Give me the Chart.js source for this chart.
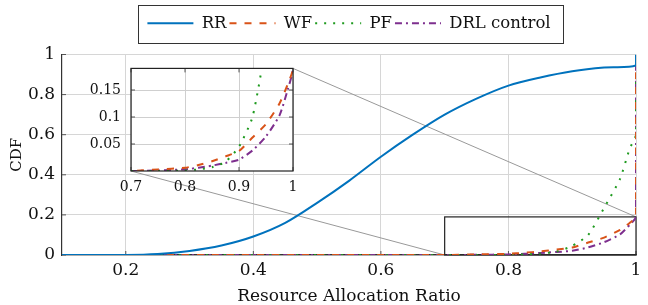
<!DOCTYPE html>
<html>
<head>
<meta charset="utf-8">
<script src="https://cdn.jsdelivr.net/npm/chart.js@4/dist/chart.umd.min.js"></script>
<style>
  body { margin: 0; background: #fff; }
  #wrap { position: relative; width: 648px; height: 305px; }
  #mainChart { position: absolute; left: 0; top: 0; }
  #insetChart { position: absolute; left: 40px; top: 50px; pointer-events: none; }
</style>
</head>
<body>
<div id="wrap">
  <canvas id="mainChart" width="648" height="305"></canvas>
  <canvas id="insetChart" width="270" height="150"></canvas>
</div>
<script>
// series data
var seriesNames = ["RR", "WF", "PF", "DRL control"];
var rrX = [0.1, 0.2, 0.25, 0.3, 0.35, 0.4, 0.45, 0.5, 0.55, 0.6, 0.65, 0.7, 0.75, 0.8, 0.85, 0.9, 0.95, 1.0, 1.0];
var rrY = [0, 0, 0.005, 0.02, 0.047, 0.092, 0.16, 0.26, 0.37, 0.49, 0.6, 0.7, 0.78, 0.845, 0.885, 0.916, 0.935, 0.945, 1.0];
var tailX = [0.1, 0.7, 0.75, 0.8, 0.825, 0.85, 0.875, 0.9, 0.925, 0.95, 0.975, 0.99, 1.0, 1.0];
var wfY  = [0, 0, 0.003, 0.006, 0.011, 0.018, 0.027, 0.037, 0.062, 0.087, 0.125, 0.16, 0.19, 1.0];
var pfY  = [0, 0, 0, 0.001, 0.003, 0.007, 0.017, 0.045, 0.1, 0.235, 0.38, 0.53, 0.6, 1.0];
var drlY = [0, 0, 0.001, 0.003, 0.006, 0.01, 0.015, 0.021, 0.038, 0.064, 0.103, 0.15, 0.19, 1.0];

// axes
var mainXTicks = [0.2, 0.4, 0.6, 0.8, 1];
var mainYTicks = [0, 0.2, 0.4, 0.6, 0.8, 1];
var insetXTicks = [0.7, 0.8, 0.9, 1];
var insetYTicks = [0.05, 0.1, 0.15];
var zoomX = [0.7, 1];
var zoomY = [0, 0.19];

var serif = "'DejaVu Serif', 'Liberation Serif', serif";
var colors = ["#0072BD", "#D95319", "#1E9A1E", "#7E2F8E"];
var dashes = [[], [7, 8], [2, 7], [7, 4, 2, 4]];

function pts(xs, ys) {
  return xs.map(function (x, i) { return { x: x, y: ys[i] }; });
}

function makeDatasets(width) {
  var ys = [null, wfY, pfY, drlY];
  var list = [{
    label: seriesNames[0], data: pts(rrX, rrY),
    borderColor: colors[0], backgroundColor: colors[0],
    borderWidth: width, borderDash: dashes[0], pointRadius: 0, tension: 0.3
  }];
  [1, 2, 3].forEach(function (k) {
    list.push({
      label: seriesNames[k], data: pts(tailX, ys[k]),
      borderColor: colors[k], backgroundColor: colors[k],
      borderWidth: width, borderDash: dashes[k], pointRadius: 0, tension: 0.2
    });
  });
  return list;
}

function fixedTicks(list) {
  return function (scale) {
    scale.ticks = list.map(function (v) { return { value: v }; });
  };
}
function plainLabel(v) { return String(v); }

// small inward tick marks like the original plot
function innerTicks(chart, sides) {
  var a = chart.chartArea, c = chart.ctx, xs = chart.scales.x, ys = chart.scales.y;
  c.save();
  c.strokeStyle = "#555";
  c.lineWidth = 1;
  c.beginPath();
  xs.ticks.forEach(function (t) {
    var px = xs.getPixelForValue(t.value);
    if (sides.bottom) { c.moveTo(px, a.bottom); c.lineTo(px, a.bottom - 4); }
    if (sides.top) { c.moveTo(px, a.top); c.lineTo(px, a.top + 4); }
  });
  ys.ticks.forEach(function (t) {
    var py = ys.getPixelForValue(t.value);
    if (sides.left) { c.moveTo(a.left, py); c.lineTo(a.left + 4, py); }
    if (sides.right) { c.moveTo(a.right, py); c.lineTo(a.right - 4, py); }
  });
  c.stroke();
  c.restore();
}

Chart.defaults.font.family = serif;
Chart.defaults.color = "#111";

// inset (zoomed view)
var insetFrame = {
  id: "insetFrame",
  beforeDraw: function (chart) {
    var a = chart.chartArea, c = chart.ctx;
    c.save();
    c.fillStyle = "#fff";
    c.fillRect(a.left, a.top, a.right - a.left, a.bottom - a.top);
    c.restore();
  },
  beforeDatasetsDraw: function (chart) {
    innerTicks(chart, { left: true, right: true, top: true, bottom: true });
  },
  afterDraw: function (chart) {
    var a = chart.chartArea, c = chart.ctx;
    c.save();
    c.strokeStyle = "#222";
    c.lineWidth = 1.2;
    c.strokeRect(a.left, a.top, a.right - a.left, a.bottom - a.top);
    c.restore();
  }
};

var insetChart = new Chart("insetChart", {
  type: "line",
  data: { datasets: makeDatasets(2) },
  options: {
    responsive: false, animation: false, devicePixelRatio: 1,
    layout: { padding: { top: 10, right: 17, left: 0, bottom: 0 } },
    plugins: { legend: { display: false }, tooltip: { enabled: false } },
    scales: {
      x: {
        type: "linear", min: zoomX[0], max: zoomX[1],
        afterBuildTicks: fixedTicks(insetXTicks),
        afterFit: function (s) { s.height = 29; },
        grid: { color: "#cfcfcf", drawTicks: false },
        border: { display: false },
        ticks: { font: { size: 14 }, padding: 8, maxRotation: 0, callback: plainLabel }
      },
      y: {
        type: "linear", min: zoomY[0], max: zoomY[1],
        afterBuildTicks: fixedTicks(insetYTicks),
        afterFit: function (s) { s.width = 91; },
        grid: { color: "#cfcfcf", drawTicks: false },
        border: { display: false },
        ticks: { font: { size: 14 }, padding: 10, callback: plainLabel }
      }
    }
  },
  plugins: [insetFrame]
});

// legend is centred over the plot area, not the whole canvas
function legendShift(chart) {
  var lg = chart.legend, a = chart.chartArea;
  if (!lg || !a) return 0;
  return (a.left + a.right) / 2 - (lg.left + lg.right) / 2;
}

// main chart extras: legend spacing and frame, zoom box and connectors
var mainExtras = {
  id: "mainExtras",
  beforeLayout: function (chart) {
    var lg = chart.legend;
    if (lg && !lg._patched) {
      var fit = lg.fit, draw = lg.draw;
      lg.fit = function () {
        fit.apply(this, arguments);
        this.height += 13;
      };
      lg.draw = function () {
        var c = this.ctx;
        c.save();
        c.translate(legendShift(chart), 0);
        draw.apply(this, arguments);
        c.restore();
      };
      lg._patched = true;
    }
  },
  beforeDatasetsDraw: function (chart) {
    var c = chart.ctx, xs = chart.scales.x, ys = chart.scales.y;
    var insetCanvas = document.getElementById("insetChart");
    var ia = insetChart.chartArea;
    var ox = insetCanvas.offsetLeft, oy = insetCanvas.offsetTop;
    innerTicks(chart, { left: true, bottom: true });
    c.save();
    c.strokeStyle = "#999";
    c.lineWidth = 1;
    c.beginPath();
    c.moveTo(xs.getPixelForValue(zoomX[0]), ys.getPixelForValue(zoomY[0]));
    c.lineTo(ox + ia.left, oy + ia.bottom);
    c.moveTo(xs.getPixelForValue(zoomX[1]), ys.getPixelForValue(zoomY[1]));
    c.lineTo(ox + ia.right, oy + ia.top);
    c.stroke();
    c.strokeStyle = "#222";
    c.lineWidth = 1.2;
    var x0 = xs.getPixelForValue(zoomX[0]), x1 = xs.getPixelForValue(zoomX[1]);
    var y0 = ys.getPixelForValue(zoomY[0]), y1 = ys.getPixelForValue(zoomY[1]);
    c.strokeRect(x0, y1, x1 - x0, y0 - y1);
    c.restore();
  },
  afterDraw: function (chart) {
    var boxes = chart.legend.legendHitBoxes;
    if (!boxes || !boxes.length) return;
    var l = Infinity, r = -Infinity, t = Infinity, b = -Infinity;
    boxes.forEach(function (h) {
      l = Math.min(l, h.left); r = Math.max(r, h.left + h.width);
      t = Math.min(t, h.top); b = Math.max(b, h.top + h.height);
    });
    var dx = legendShift(chart);
    var c = chart.ctx;
    c.save();
    c.strokeStyle = "#333";
    c.lineWidth = 1;
    c.strokeRect(Math.round(l + dx - 9) + 0.5, Math.round(t - 10) + 0.5, Math.round(r - l + 22), Math.round(b - t + 21));
    c.restore();
  }
};

new Chart("mainChart", {
  type: "line",
  data: { datasets: makeDatasets(2) },
  options: {
    responsive: false, animation: false, devicePixelRatio: 1,
    layout: { padding: { top: 12, right: 12, left: 0, bottom: 0 } },
    plugins: {
      tooltip: { enabled: false },
      legend: {
        position: "top",
        labels: {
          usePointStyle: true, pointStyle: "line", pointStyleWidth: 46,
          boxHeight: 2, padding: 3, color: "#111",
          font: { size: 16.5, family: serif },
          generateLabels: function (chart) {
            var items = Chart.defaults.plugins.legend.labels.generateLabels(chart);
            items.forEach(function (it) {
              var ds = chart.data.datasets[it.datasetIndex];
              it.lineDash = ds.borderDash;
              it.lineWidth = 2;
              it.strokeStyle = ds.borderColor;
              it.pointStyle = "line";
            });
            return items;
          }
        }
      }
    },
    scales: {
      x: {
        type: "linear", min: 0.1, max: 1,
        afterBuildTicks: fixedTicks(mainXTicks),
        afterFit: function (s) { s.height = 50; },
        grid: { color: "#d6d6d6", drawTicks: false },
        border: { color: "#333", width: 1.2 },
        ticks: { font: { size: 17 }, padding: 5, maxRotation: 0, callback: plainLabel },
        title: { display: true, text: "Resource Allocation Ratio", font: { size: 17, lineHeight: 1 }, padding: { top: 2, bottom: 0 } }
      },
      y: {
        type: "linear", min: 0, max: 1,
        afterBuildTicks: fixedTicks(mainYTicks),
        afterFit: function (s) { s.width = 62; },
        grid: { color: "#d6d6d6", drawTicks: false },
        border: { color: "#333", width: 1.2 },
        ticks: { font: { size: 17 }, padding: 7, callback: plainLabel },
        title: { display: true, text: "CDF", font: { size: 15 }, padding: { top: 8, bottom: 0 } }
      }
    }
  },
  plugins: [mainExtras]
});
</script>
</body>
</html>
